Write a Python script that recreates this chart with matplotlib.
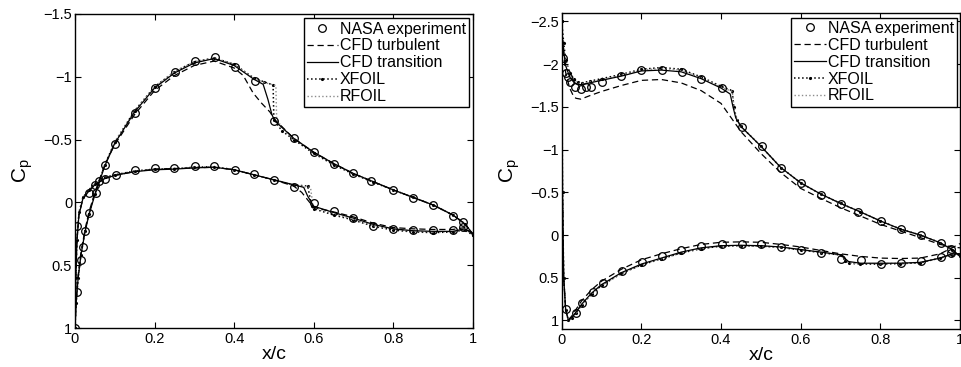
import matplotlib
matplotlib.use('Agg')
import matplotlib.pyplot as plt
from matplotlib.ticker import FuncFormatter

plt.rcParams['font.family'] = ['Liberation Sans', 'DejaVu Sans']
plt.rcParams['mathtext.fontset'] = 'custom'
plt.rcParams['mathtext.rm'] = 'Liberation Sans'
plt.rcParams['mathtext.it'] = 'Liberation Sans'

# ---------------- left case ----------------
# experiment
L_exp_up_x = [0, 0.006, 0.015, 0.019, 0.026, 0.036, 0.053, 0.076, 0.101, 0.151, 0.2, 0.252, 0.302, 0.352,
              0.402, 0.452, 0.5, 0.551, 0.6, 0.65, 0.7, 0.745, 0.8, 0.85, 0.9, 0.95, 0.976]
L_exp_up_y = [1.0, 0.716, 0.46, 0.352, 0.228, 0.087, -0.072, -0.295, -0.465, -0.71, -0.908, -1.04, -1.126, -1.155,
              -1.08, -0.967, -0.645, -0.51, -0.398, -0.307, -0.231, -0.167, -0.1, -0.037, 0.021, 0.104, 0.155]
L_exp_lo_x = [0.006, 0.036, 0.05, 0.061, 0.076, 0.102, 0.151, 0.2, 0.25, 0.302, 0.35, 0.402, 0.45, 0.5,
              0.551, 0.6, 0.65, 0.7, 0.75, 0.8, 0.85, 0.9, 0.95, 0.975]
L_exp_lo_y = [0.187, -0.075, -0.142, -0.172, -0.187, -0.222, -0.255, -0.271, -0.272, -0.292, -0.292, -0.258, -0.226, -0.178,
              -0.125, 0.004, 0.066, 0.123, 0.184, 0.212, 0.222, 0.222, 0.222, 0.193]

# CFD transition
L_tr_up_x = [0, 0.003, 0.008, 0.015, 0.025, 0.035, 0.05, 0.075, 0.1, 0.15, 0.2, 0.25, 0.3, 0.35, 0.4, 0.45,
             0.473, 0.485, 0.495, 0.502, 0.55, 0.6, 0.65, 0.7, 0.75, 0.8, 0.85, 0.9, 0.95, 0.98, 1.0]
L_tr_up_y = [1.0, 0.8, 0.6, 0.42, 0.24, 0.1, -0.06, -0.29, -0.47, -0.72, -0.91, -1.03, -1.11, -1.145, -1.09, -0.98,
             -0.94, -0.82, -0.70, -0.65, -0.51, -0.40, -0.31, -0.23, -0.165, -0.1, -0.04, 0.02, 0.1, 0.17, 0.25]
L_tr_lo_x = [0, 0.002, 0.005, 0.01, 0.02, 0.035, 0.05, 0.075, 0.1, 0.15, 0.2, 0.25, 0.3, 0.35, 0.4, 0.45, 0.5,
             0.55, 0.575, 0.585, 0.6, 0.65, 0.7, 0.75, 0.8, 0.85, 0.9, 0.95, 0.98, 1.0]
L_tr_lo_y = [1.0, 0.6, 0.3, 0.1, -0.03, -0.09, -0.14, -0.19, -0.215, -0.245, -0.26, -0.265, -0.275, -0.28, -0.26, -0.22, -0.18,
             -0.14, -0.12, -0.05, 0.03, 0.08, 0.125, 0.175, 0.21, 0.225, 0.23, 0.23, 0.21, 0.25]

# CFD turbulent
L_tu_up_x = [0, 0.003, 0.008, 0.015, 0.025, 0.035, 0.05, 0.075, 0.1, 0.15, 0.2, 0.25, 0.3, 0.35, 0.4, 0.423,
             0.448, 0.469, 0.49, 0.502, 0.55, 0.6, 0.65, 0.7, 0.75, 0.8, 0.85, 0.9, 0.95, 0.98, 1.0]
L_tu_up_y = [1.0, 0.78, 0.58, 0.4, 0.22, 0.08, -0.08, -0.3, -0.46, -0.7, -0.89, -1.01, -1.09, -1.125, -1.07, -1.01,
             -0.87, -0.79, -0.72, -0.66, -0.51, -0.40, -0.31, -0.23, -0.165, -0.1, -0.04, 0.02, 0.1, 0.17, 0.25]
L_tu_lo_x = [0, 0.002, 0.005, 0.01, 0.02, 0.035, 0.05, 0.075, 0.1, 0.15, 0.2, 0.25, 0.3, 0.35, 0.4, 0.45, 0.5,
             0.55, 0.57, 0.59, 0.6, 0.65, 0.7, 0.75, 0.8, 0.85, 0.9, 0.95, 0.98, 1.0]
L_tu_lo_y = [1.0, 0.6, 0.3, 0.1, -0.03, -0.09, -0.14, -0.19, -0.215, -0.245, -0.265, -0.27, -0.275, -0.28, -0.26, -0.22, -0.18,
             -0.13, -0.08, 0.0, 0.04, 0.075, 0.115, 0.165, 0.2, 0.21, 0.215, 0.215, 0.2, 0.25]

# XFOIL
L_xf_up_x = [0, 0.003, 0.008, 0.015, 0.025, 0.035, 0.05, 0.075, 0.1, 0.15, 0.2, 0.25, 0.3, 0.35, 0.4, 0.45,
             0.475, 0.498, 0.5, 0.52, 0.55, 0.6, 0.65, 0.7, 0.75, 0.8, 0.85, 0.9, 0.95, 0.98, 1.0]
L_xf_up_y = [1.0, 0.8, 0.6, 0.42, 0.23, 0.09, -0.07, -0.3, -0.48, -0.73, -0.92, -1.04, -1.12, -1.15, -1.1, -0.99,
             -0.96, -0.935, -0.66, -0.57, -0.5, -0.39, -0.3, -0.225, -0.16, -0.1, -0.04, 0.02, 0.1, 0.17, 0.26]
L_xf_lo_x = [0, 0.002, 0.005, 0.01, 0.02, 0.035, 0.05, 0.075, 0.1, 0.15, 0.2, 0.25, 0.3, 0.35, 0.4, 0.45, 0.5,
             0.55, 0.585, 0.595, 0.6, 0.65, 0.7, 0.75, 0.8, 0.85, 0.9, 0.95, 0.98, 1.0]
L_xf_lo_y = [1.0, 0.6, 0.3, 0.08, -0.04, -0.1, -0.15, -0.2, -0.22, -0.25, -0.265, -0.27, -0.28, -0.285, -0.26, -0.22, -0.18,
             -0.14, -0.13, 0.03, 0.05, 0.1, 0.14, 0.19, 0.22, 0.235, 0.24, 0.235, 0.22, 0.26]

# RFOIL
L_rf_up_x = [0, 0.003, 0.008, 0.015, 0.025, 0.035, 0.05, 0.075, 0.1, 0.15, 0.2, 0.25, 0.3, 0.35, 0.4, 0.45,
             0.475, 0.505, 0.507, 0.52, 0.55, 0.6, 0.65, 0.7, 0.75, 0.8, 0.85, 0.9, 0.95, 0.98, 1.0]
L_rf_up_y = [1.0, 0.8, 0.6, 0.42, 0.23, 0.09, -0.07, -0.3, -0.48, -0.73, -0.92, -1.04, -1.12, -1.15, -1.1, -0.99,
             -0.955, -0.93, -0.66, -0.6, -0.51, -0.4, -0.31, -0.23, -0.165, -0.1, -0.04, 0.02, 0.1, 0.17, 0.25]
L_rf_lo_x = [0, 0.002, 0.005, 0.01, 0.02, 0.035, 0.05, 0.075, 0.1, 0.15, 0.2, 0.25, 0.3, 0.35, 0.4, 0.45, 0.5,
             0.55, 0.592, 0.598, 0.61, 0.65, 0.7, 0.75, 0.8, 0.85, 0.9, 0.95, 0.98, 1.0]
L_rf_lo_y = [1.0, 0.6, 0.3, 0.08, -0.04, -0.1, -0.15, -0.2, -0.22, -0.25, -0.265, -0.27, -0.28, -0.285, -0.26, -0.22, -0.18,
             -0.14, -0.12, 0.02, 0.05, 0.09, 0.135, 0.185, 0.215, 0.23, 0.235, 0.235, 0.22, 0.25]

# ---------------- right case ----------------
R_exp_up_x = [0.003, 0.011, 0.016, 0.022, 0.034, 0.048, 0.061, 0.073, 0.1, 0.15, 0.198, 0.251, 0.301, 0.35,
              0.402, 0.452, 0.502, 0.551, 0.601, 0.65, 0.7, 0.745, 0.802, 0.852, 0.901, 0.952, 0.977]
R_exp_up_y = [-2.07, -1.9, -1.855, -1.793, -1.737, -1.706, -1.728, -1.737, -1.786, -1.86, -1.93, -1.933, -1.913, -1.824,
              -1.718, -1.268, -1.045, -0.787, -0.61, -0.474, -0.36, -0.27, -0.164, -0.067, 0.003, 0.093, 0.16]
R_exp_lo_x = [0.011, 0.036, 0.052, 0.078, 0.103, 0.151, 0.201, 0.251, 0.3, 0.35, 0.402, 0.452, 0.5,
              0.551, 0.601, 0.65, 0.7, 0.751, 0.802, 0.852, 0.901, 0.952, 0.977]
R_exp_lo_y = [0.864, 0.911, 0.798, 0.669, 0.563, 0.422, 0.317, 0.25, 0.18, 0.129, 0.101, 0.109, 0.109,
              0.141, 0.171, 0.211, 0.277, 0.297, 0.336, 0.324, 0.309, 0.258, 0.211]

R_tr_up_x = [0, 0.005, 0.01, 0.02, 0.03, 0.04, 0.05, 0.07, 0.1, 0.15, 0.2, 0.25, 0.3, 0.35, 0.4, 0.423,
             0.43, 0.437, 0.45, 0.5, 0.55, 0.6, 0.65, 0.7, 0.75, 0.8, 0.85, 0.9, 0.95, 0.98, 1.0]
R_tr_up_y = [-2.4, -2.15, -1.98, -1.85, -1.79, -1.76, -1.76, -1.78, -1.81, -1.86, -1.92, -1.93, -1.91, -1.83, -1.72, -1.65,
             -1.5, -1.37, -1.27, -1.04, -0.79, -0.61, -0.48, -0.37, -0.27, -0.165, -0.07, 0.0, 0.09, 0.17, 0.25]
R_tr_lo_x = [0, 0.002, 0.005, 0.01, 0.017, 0.025, 0.036, 0.05, 0.075, 0.1, 0.15, 0.2, 0.25, 0.3, 0.35, 0.4, 0.45,
             0.5, 0.55, 0.6, 0.65, 0.7, 0.71, 0.72, 0.75, 0.8, 0.85, 0.9, 0.95, 0.98, 1.0]
R_tr_lo_y = [-2.4, -0.5, 0.5, 0.88, 1.0, 0.97, 0.9, 0.81, 0.68, 0.58, 0.44, 0.34, 0.27, 0.2, 0.15, 0.125, 0.12,
             0.125, 0.14, 0.17, 0.2, 0.23, 0.27, 0.31, 0.33, 0.33, 0.33, 0.32, 0.27, 0.22, 0.22]

R_tu_up_x = [0, 0.005, 0.01, 0.02, 0.03, 0.036, 0.048, 0.07, 0.1, 0.15, 0.2, 0.25, 0.3, 0.35, 0.4, 0.45,
             0.5, 0.55, 0.6, 0.65, 0.7, 0.8, 0.9, 0.95, 0.98, 1.0]
R_tu_up_y = [-2.4, -2.1, -1.9, -1.72, -1.62, -1.6, -1.59, -1.63, -1.68, -1.75, -1.81, -1.82, -1.78, -1.69, -1.54, -1.21,
             -0.955, -0.73, -0.545, -0.43, -0.32, -0.125, 0.03, 0.11, 0.14, 0.15]
R_tu_lo_x = [0, 0.002, 0.005, 0.01, 0.017, 0.025, 0.036, 0.05, 0.075, 0.1, 0.15, 0.2, 0.25, 0.3, 0.35, 0.4, 0.45,
             0.5, 0.55, 0.6, 0.65, 0.7, 0.75, 0.8, 0.85, 0.9, 0.95, 0.98, 1.0]
R_tu_lo_y = [-2.4, -0.5, 0.5, 0.88, 0.99, 0.95, 0.87, 0.77, 0.64, 0.54, 0.40, 0.29, 0.22, 0.16, 0.11, 0.085, 0.08,
             0.085, 0.11, 0.14, 0.18, 0.22, 0.25, 0.27, 0.275, 0.27, 0.22, 0.15, 0.1]

R_xf_up_x = [0, 0.005, 0.01, 0.02, 0.03, 0.04, 0.05, 0.07, 0.1, 0.15, 0.2, 0.25, 0.3, 0.35, 0.4, 0.428,
             0.432, 0.44, 0.45, 0.5, 0.55, 0.6, 0.65, 0.7, 0.75, 0.8, 0.85, 0.9, 0.95, 0.98, 1.0]
R_xf_up_y = [-2.5, -2.25, -2.05, -1.9, -1.83, -1.79, -1.78, -1.8, -1.83, -1.88, -1.94, -1.96, -1.94, -1.85, -1.74, -1.69,
             -1.5, -1.35, -1.27, -1.04, -0.79, -0.61, -0.48, -0.37, -0.27, -0.165, -0.07, 0.0, 0.09, 0.17, 0.25]
R_xf_lo_x = [0, 0.002, 0.005, 0.01, 0.017, 0.025, 0.036, 0.05, 0.075, 0.1, 0.15, 0.2, 0.25, 0.3, 0.35, 0.4, 0.45,
             0.5, 0.55, 0.6, 0.65, 0.7, 0.712, 0.72, 0.75, 0.8, 0.85, 0.9, 0.95, 0.98, 1.0]
R_xf_lo_y = [-2.5, -0.5, 0.5, 0.88, 1.0, 0.97, 0.91, 0.82, 0.69, 0.59, 0.45, 0.35, 0.28, 0.21, 0.16, 0.13, 0.125,
             0.13, 0.145, 0.175, 0.205, 0.235, 0.3, 0.33, 0.34, 0.34, 0.335, 0.325, 0.27, 0.23, 0.22]

R_rf_up_x = [0, 0.005, 0.01, 0.02, 0.03, 0.04, 0.05, 0.07, 0.1, 0.15, 0.2, 0.25, 0.3, 0.35, 0.4, 0.428,
             0.434, 0.44, 0.45, 0.5, 0.55, 0.6, 0.65, 0.7, 0.75, 0.8, 0.85, 0.9, 0.95, 0.98, 1.0]
R_rf_up_y = [-2.45, -2.2, -2.02, -1.88, -1.81, -1.78, -1.77, -1.79, -1.82, -1.87, -1.93, -1.95, -1.93, -1.84, -1.73, -1.68,
             -1.45, -1.36, -1.27, -1.04, -0.79, -0.61, -0.48, -0.37, -0.27, -0.165, -0.07, 0.0, 0.09, 0.17, 0.25]
R_rf_lo_x = R_xf_lo_x
R_rf_lo_y = [-2.45, -0.5, 0.5, 0.88, 1.0, 0.97, 0.91, 0.82, 0.69, 0.59, 0.45, 0.35, 0.28, 0.21, 0.16, 0.13, 0.125,
             0.13, 0.145, 0.175, 0.205, 0.235, 0.29, 0.325, 0.335, 0.335, 0.33, 0.32, 0.27, 0.23, 0.22]

x_ticks = [0, 0.2, 0.4, 0.6, 0.8, 1]
L_yticks = [-1.5, -1, -0.5, 0, 0.5, 1]
R_yticks = [-2.5, -2, -1.5, -1, -0.5, 0, 0.5, 1]
labels = ['NASA experiment', 'CFD turbulent', 'CFD transition', 'XFOIL', 'RFOIL']


def fmt(v, pos):
    s = '%g' % v
    return s.replace('-', '\u2212')


def draw(ax, exp, tu, tr, xf, rf, yticks, ylim, anchor):
    h_xf, = ax.plot(xf[0], xf[1], ':', color='k', lw=1.1, marker='.', ms=2.5)
    ax.plot(xf[2], xf[3], ':', color='k', lw=1.1, marker='.', ms=2.5)
    h_rf, = ax.plot(rf[0], rf[1], ':', color='0.55', lw=1.0)
    ax.plot(rf[2], rf[3], ':', color='0.55', lw=1.0)
    h_tu, = ax.plot(tu[0], tu[1], '--', color='k', lw=0.9, dashes=(5, 3))
    ax.plot(tu[2], tu[3], '--', color='k', lw=0.9, dashes=(5, 3))
    h_tr, = ax.plot(tr[0], tr[1], '-', color='k', lw=0.9)
    ax.plot(tr[2], tr[3], '-', color='k', lw=0.9)
    h_exp, = ax.plot(exp[0], exp[1], 'o', mfc='none', mec='k', ms=5.5, mew=0.9, ls='none')
    ax.plot(exp[2], exp[3], 'o', mfc='none', mec='k', ms=5.5, mew=0.9, ls='none')

    ax.set_xlim(0, 1)
    ax.set_ylim(*ylim)
    ax.set_xticks(x_ticks)
    ax.set_yticks(yticks)
    ax.xaxis.set_major_formatter(FuncFormatter(fmt))
    ax.yaxis.set_major_formatter(FuncFormatter(fmt))
    ax.tick_params(direction='in', top=True, right=True, length=4, width=0.8, labelsize=10.5)
    ax.tick_params(axis='x', pad=3)
    ax.tick_params(axis='y', pad=2)
    for sp in ax.spines.values():
        sp.set_linewidth(1.0)
    ax.set_xlabel('x/c', fontsize=14, labelpad=0)
    ax.set_ylabel(r'C$_{\mathrm{p}}$', fontsize=15, labelpad=6)

    leg = ax.legend([h_exp, h_tu, h_tr, h_xf, h_rf], labels, loc='upper right',
                    bbox_to_anchor=anchor, borderaxespad=0, fontsize=11.5, frameon=True,
                    fancybox=False, edgecolor='k', framealpha=1, numpoints=1,
                    handlelength=1.95, handletextpad=0.12, labelspacing=0.12, borderpad=0.2)
    leg.get_frame().set_linewidth(1.0)


fig = plt.figure(figsize=(9.61, 3.67), dpi=100)
ax1 = fig.add_axes([0.078, 0.106, 0.414, 0.856])
ax2 = fig.add_axes([0.5845, 0.1035, 0.4145, 0.8615])

draw(ax1, (L_exp_up_x, L_exp_up_y, L_exp_lo_x, L_exp_lo_y),
     (L_tu_up_x, L_tu_up_y, L_tu_lo_x, L_tu_lo_y),
     (L_tr_up_x, L_tr_up_y, L_tr_lo_x, L_tr_lo_y),
     (L_xf_up_x, L_xf_up_y, L_xf_lo_x, L_xf_lo_y),
     (L_rf_up_x, L_rf_up_y, L_rf_lo_x, L_rf_lo_y),
     L_yticks, (1, -1.5), (0.991, 0.986))
draw(ax2, (R_exp_up_x, R_exp_up_y, R_exp_lo_x, R_exp_lo_y),
     (R_tu_up_x, R_tu_up_y, R_tu_lo_x, R_tu_lo_y),
     (R_tr_up_x, R_tr_up_y, R_tr_lo_x, R_tr_lo_y),
     (R_xf_up_x, R_xf_up_y, R_xf_lo_x, R_xf_lo_y),
     (R_rf_up_x, R_rf_up_y, R_rf_lo_x, R_rf_lo_y),
     R_yticks, (1.1, -2.6), (0.992, 0.985))

fig.savefig('out.png', dpi=100)
